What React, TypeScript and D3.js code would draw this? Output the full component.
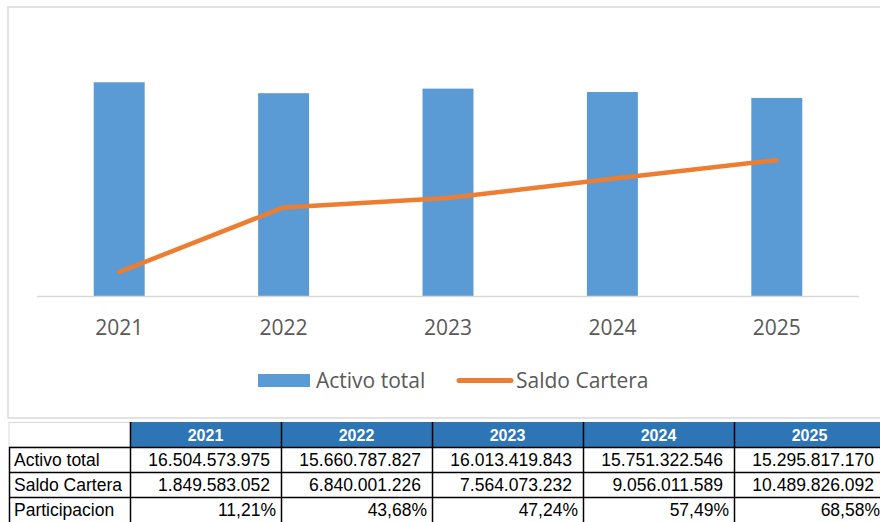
import React from "react";
import * as d3 from "d3";

const years = ["2021", "2022", "2023", "2024", "2025"];
const activoTotal = [16504573975, 15660787827, 16013419843, 15751322546, 15295817170];
const saldoCartera = [1849583052, 6840001226, 7564073232, 9056011589, 10489826092];
const participacion = [11.21, 43.68, 47.24, 57.49, 68.58];
const rowLabels = ["Activo total", "Saldo Cartera", "Participacion"];
const seriesNames = ["Activo total", "Saldo Cartera"];

const W = 880;
const H = 522;
const BLUE = "#5B9BD5";
const ORANGE = "#ED7D31";
const HEADER = "#2E75B6";

const locale = d3.formatLocale({ decimal: ",", thousands: ".", grouping: [3], currency: ["", ""] });
const fmtInt = locale.format(",d");
const fmtPct = locale.format(",.2f");

export default function App() {
  const x = d3.scaleBand<string>().domain(years).range([37, 859]).paddingInner(0.69).paddingOuter(0.345);
  const y = d3.scaleLinear().domain([0, 20e9]).range([296, 37]);
  const cx = (d: string) => (x(d) as number) + x.bandwidth() / 2;
  const line = d3
    .line<number>()
    .x((_, i) => cx(years[i]))
    .y((v) => y(v));

  // table geometry
  const colX = [8, 130, 281, 432, 583, 734, 885];
  const rowY = [422, 447, 472, 497, 522];
  const tableFont = "'Liberation Sans', Arial, sans-serif";
  const bodyRows = [
    activoTotal.map((v) => fmtInt(v)),
    saldoCartera.map((v) => fmtInt(v)),
    participacion.map((v) => fmtPct(v) + "%"),
  ];

  return (
    <svg
      width={W}
      height={H}
      style={{ position: "absolute", left: 0, top: 0, background: "#fff" }}
    >
      {/* chart frame */}
      <rect x={8} y={7} width={890} height={411} fill="#fff" stroke="#d9d9d9" strokeWidth={1.5} />

      {/* bars */}
      {years.map((yr, i) => (
        <rect
          key={yr}
          x={x(yr)}
          y={y(activoTotal[i])}
          width={x.bandwidth()}
          height={y(0) - y(activoTotal[i])}
          fill={BLUE}
        />
      ))}
      {/* axis line */}
      <line x1={37} x2={859} y1={y(0) + 0.5} y2={y(0) + 0.5} stroke="#d9d9d9" strokeWidth={1.5} />

      {/* line series */}
      <path
        d={line(saldoCartera) || ""}
        fill="none"
        stroke={ORANGE}
        strokeWidth={4.5}
        strokeLinecap="round"
        strokeLinejoin="round"
      />

      {/* x labels */}
      {years.map((yr) => (
        <text
          key={"l" + yr}
          x={cx(yr)}
          y={335}
          textAnchor="middle"
          fontFamily="'Open Sans', sans-serif"
          fontSize={21}
          fill="#595959"
        >
          {yr}
        </text>
      ))}

      {/* legend */}
      <rect x={258} y={374} width={52} height={13} fill={BLUE} />
      <text x={316} y={388} fontFamily="'Open Sans', sans-serif" fontSize={21} fill="#595959">
        {seriesNames[0]}
      </text>
      <line x1={459} x2={511} y1={380.5} y2={380.5} stroke={ORANGE} strokeWidth={5} strokeLinecap="round" />
      <text x={516} y={388} fontFamily="'Open Sans', sans-serif" fontSize={21} fill="#595959">
        {seriesNames[1]}
      </text>

      {/* table header */}
      <rect x={9} y={422.5} width={121} height={24.5} fill="#fff" stroke="#d9d9d9" strokeWidth={1} />
      {years.map((yr, i) => (
        <g key={"h" + yr}>
          <rect x={colX[i + 1]} y={rowY[0]} width={colX[i + 2] - colX[i + 1]} height={rowY[1] - rowY[0]} fill={HEADER} />
          <text
            x={(colX[i + 1] + colX[i + 2]) / 2}
            y={rowY[0] + 18.5}
            textAnchor="middle"
            fontFamily={tableFont}
            fontWeight="bold"
            fontSize={16}
            fill="#fff"
          >
            {yr}
          </text>
        </g>
      ))}

      {/* table body */}
      {rowLabels.map((lab, r) => (
        <g key={lab}>
          <text x={14} y={rowY[r + 1] + 19} fontFamily={tableFont} fontSize={17.5} fill="#000">
            {lab}
          </text>
          {bodyRows[r].map((txt, c) => (
            <text
              key={c}
              x={colX[c + 2] - (r === 2 ? 5 : 11)}
              y={rowY[r + 1] + 19}
              textAnchor="end"
              fontFamily={tableFont}
              fontSize={17.5}
              fill="#000"
            >
              {txt}
            </text>
          ))}
        </g>
      ))}

      {/* table grid lines */}
      {colX.slice(1, 6).map((cxp, i) => (
        <line key={"v" + i} x1={cxp + 0.5} x2={cxp + 0.5} y1={rowY[0]} y2={H} stroke="#000" strokeWidth={1.5} />
      ))}
      <line x1={9.5} x2={9.5} y1={rowY[1]} y2={H} stroke="#000" strokeWidth={1.5} />
      {rowY.slice(1, 4).map((ry, i) => (
        <line key={"h" + i} x1={9} x2={W} y1={ry + 0.5} y2={ry + 0.5} stroke="#000" strokeWidth={1.5} />
      ))}
    </svg>
  );
}
